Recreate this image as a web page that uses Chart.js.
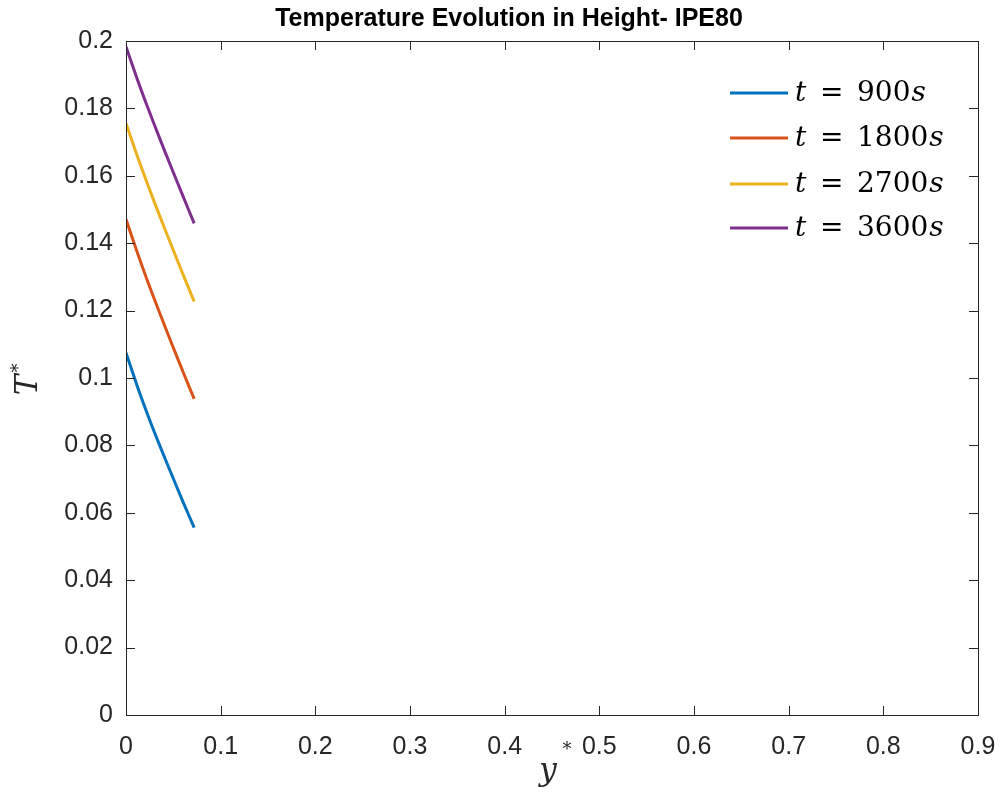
<!DOCTYPE html>
<html>
<head>
<meta charset="utf-8">
<title>Temperature Evolution in Height- IPE80</title>
<script src="https://cdn.jsdelivr.net/npm/chart.js@4.4.0/dist/chart.umd.min.js"></script>
<style>
  html, body { margin: 0; padding: 0; background: #fff; }
  #wrap { width: 1005px; height: 807px; }
</style>
</head>
<body>
<div id="wrap"><canvas id="myChart" width="1005" height="807"></canvas></div>
<script>
'use strict';

// y* positions along the height
let yStar = [0, 0.012, 0.024, 0.036, 0.048, 0.060, 0.072];

// T* at each time step
let t900 = [0.1075, 0.0975, 0.0883, 0.0797, 0.0715, 0.0634, 0.0556];
let t1800 = [0.1471, 0.1372, 0.1278, 0.1190, 0.1104, 0.1020, 0.0938];
let t2700 = [0.1756, 0.1658, 0.1566, 0.1478, 0.1393, 0.1309, 0.1227];
let t3600 = [0.1983, 0.1886, 0.1795, 0.1708, 0.1624, 0.1541, 0.1459];

let seriesTimes = ['900', '1800', '2700', '3600'];
let seriesColors = ['#0072BD', '#D95319', '#EDB120', '#7E2F8E'];

// tick marks + labels
let xTicks = [0, 0.1, 0.2, 0.3, 0.4, 0.5, 0.6, 0.7, 0.8, 0.9];
let xTickLabels = ['0', '0.1', '0.2', '0.3', '0.4', '0.5', '0.6', '0.7', '0.8', '0.9'];
let yTicks = [0, 0.02, 0.04, 0.06, 0.08, 0.1, 0.12, 0.14, 0.16, 0.18, 0.2];
let yTickLabels = ['0', '0.02', '0.04', '0.06', '0.08', '0.1', '0.12', '0.14', '0.16', '0.18', '0.2'];

let chartTitle = 'Temperature Evolution in Height- IPE80';
let axisColor = '#262626';
let ctx = document.getElementById('myChart').getContext('2d');

function makePoints(values){
  return yStar.map((x, i) => ({x: x, y: values[i]}));
}

let allSeries = [t900, t1800, t2700, t3600];
let datasets = allSeries.map((vals, i) => ({
  label: 't = ' + seriesTimes[i] + 's',
  data: makePoints(vals),
  borderColor: seriesColors[i],
  backgroundColor: seriesColors[i],
  borderWidth: 3,
  pointRadius: 0,
  showLine: true,
  tension: 0.3,
  fill: false
}));

// box around the axes, ticks pointing inward, title, legend and axis labels
const matlabLook = {
  id: 'matlabLook',
  afterDraw(chart){
    const c = chart.ctx;
    const a = chart.chartArea;
    const xs = chart.scales.x;
    const ys = chart.scales.y;
    c.save();
    c.strokeStyle = axisColor;
    c.lineWidth = 1;
    c.strokeRect(Math.round(a.left) + 0.5, Math.round(a.top) + 0.5,
      Math.round(a.right - a.left), Math.round(a.bottom - a.top));
    c.beginPath();
    let tl = 9;
    xTicks.forEach(v => {
      let px = Math.round(xs.getPixelForValue(v)) + 0.5;
      c.moveTo(px, a.bottom); c.lineTo(px, a.bottom - tl);
      c.moveTo(px, a.top); c.lineTo(px, a.top + tl);
    });
    yTicks.forEach(v => {
      let py = Math.round(ys.getPixelForValue(v)) + 0.5;
      c.moveTo(a.left, py); c.lineTo(a.left + tl, py);
      c.moveTo(a.right, py); c.lineTo(a.right - tl, py);
    });
    c.stroke();

    // title
    c.fillStyle = '#000';
    c.textAlign = 'center';
    c.textBaseline = 'middle';
    c.font = 'bold 25px "Liberation Sans", Arial, sans-serif';
    c.fillText(chartTitle, 509, 19);

    // legend
    let serif = '"DejaVu Serif", "Liberation Serif", serif';
    let rowY = [93, 138, 184, 228];
    chart.data.datasets.forEach((ds, i) => {
      let y = rowY[i];
      c.strokeStyle = ds.borderColor;
      c.lineWidth = 3;
      c.beginPath();
      c.moveTo(730, y); c.lineTo(788, y);
      c.stroke();
      c.textAlign = 'left';
      c.font = 'italic 28px ' + serif;
      c.fillText('t', 795, y + 1);
      c.font = '28px ' + serif;
      c.fillText('=', 820, y + 1);
      c.fillText(seriesTimes[i], 857, y + 1);
      let w = c.measureText(seriesTimes[i]).width;
      c.font = 'italic 28px ' + serif;
      c.fillText('s', 858 + w, y + 1);
    });

    // axis labels
    c.fillStyle = axisColor;
    c.font = 'italic 31px ' + serif;
    c.textAlign = 'center';
    c.fillText('y', 548, 772);
    c.font = '18px ' + serif;
    c.fillText('*', 567, 750);

    c.translate(29, 385);
    c.rotate(-Math.PI / 2);
    c.font = 'italic 31px ' + serif;
    c.fillText('T', 0, 0);
    c.font = '18px ' + serif;
    c.fillText('*', 17, -10);
    c.restore();
  }
};

let myChartObj = {
  type: 'scatter',
  data: { datasets: datasets },
  options: {
    responsive: false,
    animation: false,
    layout: { padding: { left: 0, right: 27, top: 41, bottom: 0 } },
    scales: {
      x: {
        type: 'linear',
        min: 0,
        max: 0.9,
        afterBuildTicks: (scale) => { scale.ticks = xTicks.map(v => ({value: v})); },
        afterFit: (scale) => {
          scale.height = 92;
          scale.paddingLeft = 0;
          scale.paddingRight = 0;
        },
        grid: { display: false, drawTicks: false },
        border: { display: false },
        ticks: {
          padding: 17,
          color: axisColor,
          font: { family: '"Liberation Sans", Arial, sans-serif', size: 25 },
          callback: (v, i) => xTickLabels[i],
          maxRotation: 0
        }
      },
      y: {
        type: 'linear',
        min: 0,
        max: 0.2,
        afterBuildTicks: (scale) => { scale.ticks = yTicks.map(v => ({value: v})); },
        afterFit: (scale) => {
          scale.width = 126;
          scale.paddingTop = 0;
          scale.paddingBottom = 0;
        },
        grid: { display: false, drawTicks: false },
        border: { display: false },
        ticks: {
          padding: 13,
          color: axisColor,
          font: { family: '"Liberation Sans", Arial, sans-serif', size: 25 },
          callback: (v, i) => yTickLabels[i]
        }
      }
    },
    plugins: {
      legend: { display: false },
      tooltip: { enabled: false },
      title: { display: false }
    }
  },
  plugins: [matlabLook]
};

const myChart = new Chart(ctx, myChartObj);
</script>
</body>
</html>
